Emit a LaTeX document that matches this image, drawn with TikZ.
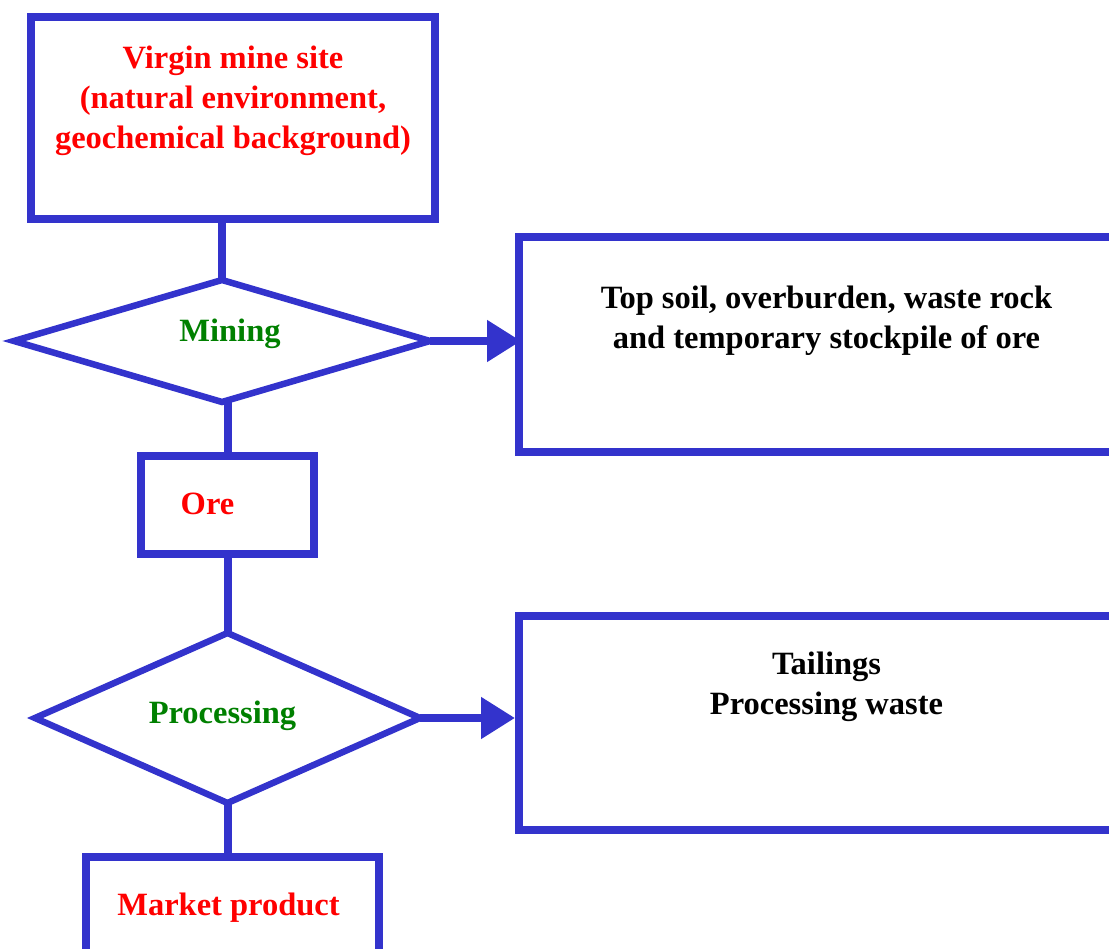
\documentclass[tikz,border=0pt]{standalone}
\usepackage{fontspec}
\setmainfont{Liberation Serif}
\usetikzlibrary{arrows.meta,calc,shapes.geometric}
\definecolor{flowblue}{RGB}{51,51,204}
\definecolor{labelred}{RGB}{255,0,0}
\definecolor{labelgreen}{RGB}{0,128,0}

\begin{document}
\begin{tikzpicture}[x=1pt, y=-1pt, >={Triangle[length=34pt, width=40pt]},
  font=\fontsize{32.5}{40}\selectfont\bfseries,
  box/.style={draw=flowblue, line width=8pt, rectangle, inner sep=0pt},
  decision/.style={draw=flowblue, line width=6.5pt, diamond, inner sep=0pt, outer sep=0pt},
  link/.style={draw=flowblue, line width=8pt},
  redtxt/.style={text=labelred, align=center, inner sep=0pt},
  greentxt/.style={text=labelgreen, align=center, inner sep=0pt},
  blacktxt/.style={text=black, align=center, inner sep=0pt}]
  \useasboundingbox (0,0) rectangle (1109,949);

  \node[box, minimum width=404pt, minimum height=202pt] (virgin) at (233,118) {};
  \node[decision, minimum width=416pt, minimum height=122pt] (mining) at (222,341) {};
  \node[box, minimum width=173pt, minimum height=98pt] (ore) at (227.5,505) {};
  \node[decision, minimum width=385pt, minimum height=170pt] (processing) at (227.5,718) {};
  \node[box, minimum width=293pt, minimum height=110pt] (market) at (232.5,912) {};
  \node[box, minimum width=611pt, minimum height=215pt] (topsoil) at (824.5,344.5) {};
  \node[box, minimum width=611pt, minimum height=214pt] (tailings) at (824.5,723) {};

  \node[redtxt] (virgintxt) at ($(virgin)+(0,-17)$)
    {Virgin mine site\\ (natural environment,\\ geochemical background)};
  \node[greentxt] (miningtxt) at ($(mining)+(8,-7)$) {Mining};
  \node[redtxt] (oretxt) at ($(ore)+(-20,-1)$) {Ore};
  \node[greentxt] (processingtxt) at ($(processing)+(-5,-2)$) {Processing};
  \node[redtxt] (markettxt) at ($(market)+(-4,-4)$) {Market product};
  \node[blacktxt] (topsoiltxt) at ($(topsoil)+(2,-24)$)
    {Top soil, overburden, waste rock\\ and temporary stockpile of ore};
  \node[blacktxt] (tailingstxt) at ($(tailings)+(2,-36)$)
    {Tailings\\ Processing waste};

  \draw[link] (mining.north) -- (mining.north |- virgin.south);
  \draw[link] (ore.north) -- (ore.north |- mining.south);
  \draw[link] (ore.south) -- (processing.north);
  \draw[link] (processing.south) -- (processing.south |- market.north);
  \draw[link, ->, shorten >=-6pt] (mining.east) -- (mining.east -| topsoil.west);
  \draw[link, ->] (processing.east) -- (processing.east -| tailings.west);
\end{tikzpicture}
\end{document}
